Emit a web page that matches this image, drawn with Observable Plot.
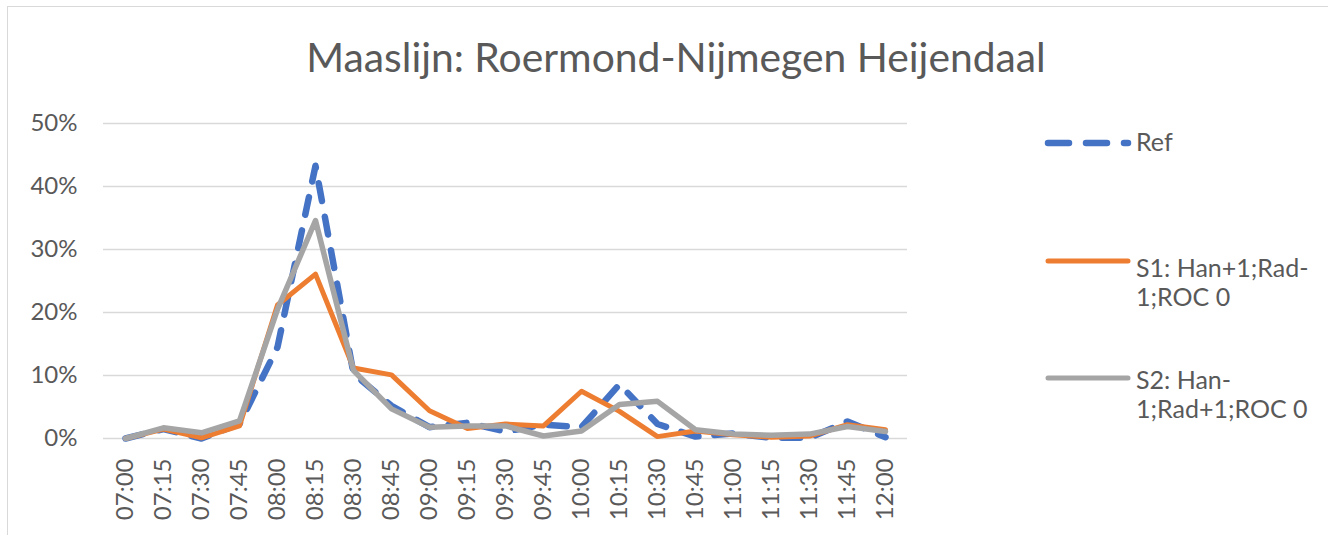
<!DOCTYPE html>
<html>
<head>
<meta charset="utf-8">
<script src="https://cdn.jsdelivr.net/npm/d3@7"></script>
<script src="https://cdn.jsdelivr.net/npm/@observablehq/plot@0.6"></script>
<style>
  body { margin: 0; background: #fff; font-family: Lato, "Noto Sans", sans-serif; }
  #wrap { position: relative; width: 1328px; height: 535px; overflow: hidden; background: #fff; }
  #frame { position: absolute; left: 7px; top: 6px; width: 1400px; height: 600px; border: 1.5px solid #d9d9d9; }
  #title { position: absolute; left: 0; width: 1352px; top: 37px; text-align: center; font-size: 40.8px; line-height: 1; color: #595959; white-space: nowrap; }
  #chart { position: absolute; left: 0; top: 0; }
  .lg-sw { position: absolute; left: 1043px; }
  .lg-tx { position: absolute; left: 1136px; font-size: 25px; line-height: 29px; color: #595959; white-space: nowrap; }
</style>
</head>
<body>
<div id="wrap">
  <div id="frame"></div>
  <div id="title">Maaslijn: Roermond-Nijmegen Heijendaal</div>
  <div id="chart"></div>
  <div id="legend"></div>
</div>
<script>
// Categories (time of day)
const times = ["07:00","07:15","07:30","07:45","08:00","08:15","08:30","08:45","09:00","09:15","09:30","09:45","10:00","10:15","10:30","10:45","11:00","11:15","11:30","11:45","12:00"];
// Series values in percent
const ref = [0, 1.5, 0, 2.3, 14.5, 43.3, 10.3, 5.2, 1.8, 2.5, 1.1, 2.2, 1.8, 8.6, 2.3, 0.3, 0.8, 0.1, 0.1, 2.7, 0.2];
const s1  = [0, 1.5, 0.1, 2.0, 21.2, 26.1, 11.2, 10.1, 4.4, 1.6, 2.3, 2.0, 7.5, 4.3, 0.3, 1.2, 0.6, 0.2, 0.4, 2.2, 1.4];
const s2  = [0, 1.7, 0.9, 2.8, 20.5, 34.6, 10.8, 4.7, 1.8, 2.0, 2.0, 0.4, 1.2, 5.4, 5.9, 1.4, 0.7, 0.5, 0.7, 1.9, 1.1];
// Y tick values (percent)
const yTicks = [0, 10, 20, 30, 40, 50];
// Series names and colours
const seriesNames = ["Ref", "S1: Han+1;Rad-\n1;ROC 0", "S2: Han-\n1;Rad+1;ROC 0"];
const seriesColors = ["#4472c4", "#ed7d31", "#a5a5a5"];

const rows = times.map((t, i) => ({time: t, ref: ref[i], s1: s1[i], s2: s2[i]}));

const chart = Plot.plot({
  width: 1328,
  height: 535,
  marginLeft: 103,
  marginRight: 421,
  marginTop: 123,
  marginBottom: 97,
  style: {fontFamily: "Lato, 'Noto Sans', sans-serif", color: "#595959", background: "transparent", overflow: "visible"},
  x: {type: "point", domain: times, padding: 0.5},
  y: {domain: [0, 50]},
  marks: [
    Plot.gridY(yTicks, {stroke: "#d9d9d9", strokeOpacity: 1, strokeWidth: 1.6}),
    Plot.axisY(yTicks, {tickSize: 0, tickPadding: 26, fontSize: 24, tickFormat: d => d + "%", label: null}),
    Plot.axisX(times, {tickSize: 0, tickPadding: 20, fontSize: 24, tickRotate: -90, label: null}),
    Plot.lineY(rows, {x: "time", y: "ref", stroke: seriesColors[0], strokeWidth: 6.5, strokeDasharray: "18,16", strokeLinecap: "round", strokeLinejoin: "round"}),
    Plot.lineY(rows, {x: "time", y: "s1", stroke: seriesColors[1], strokeWidth: 5, strokeLinecap: "round", strokeLinejoin: "round"}),
    Plot.lineY(rows, {x: "time", y: "s2", stroke: seriesColors[2], strokeWidth: 5.5, strokeLinecap: "round", strokeLinejoin: "round"})
  ]
});
document.getElementById("chart").appendChild(chart);

// Legend (HTML, right side)
const legend = document.getElementById("legend");
const swatchY = [143, 261, 378];
const textTop = [127, 253, 365];
seriesNames.forEach((name, i) => {
  const sw = document.createElementNS("http://www.w3.org/2000/svg", "svg");
  sw.setAttribute("class", "lg-sw");
  sw.setAttribute("width", 92);
  sw.setAttribute("height", 12);
  sw.style.top = (swatchY[i] - 6) + "px";
  const ln = document.createElementNS("http://www.w3.org/2000/svg", "line");
  ln.setAttribute("x1", 5); ln.setAttribute("x2", 85);
  ln.setAttribute("y1", 6); ln.setAttribute("y2", 6);
  ln.setAttribute("stroke", seriesColors[i]);
  ln.setAttribute("stroke-width", i === 0 ? 6.5 : 5);
  ln.setAttribute("stroke-linecap", "round");
  if (i === 0) ln.setAttribute("stroke-dasharray", "21,17");
  sw.appendChild(ln);
  legend.appendChild(sw);
  const tx = document.createElement("div");
  tx.className = "lg-tx";
  tx.style.top = textTop[i] + "px";
  name.split("\n").forEach((line, j) => {
    if (j) tx.appendChild(document.createElement("br"));
    tx.appendChild(document.createTextNode(line));
  });
  legend.appendChild(tx);
});
</script>
</body>
</html>
